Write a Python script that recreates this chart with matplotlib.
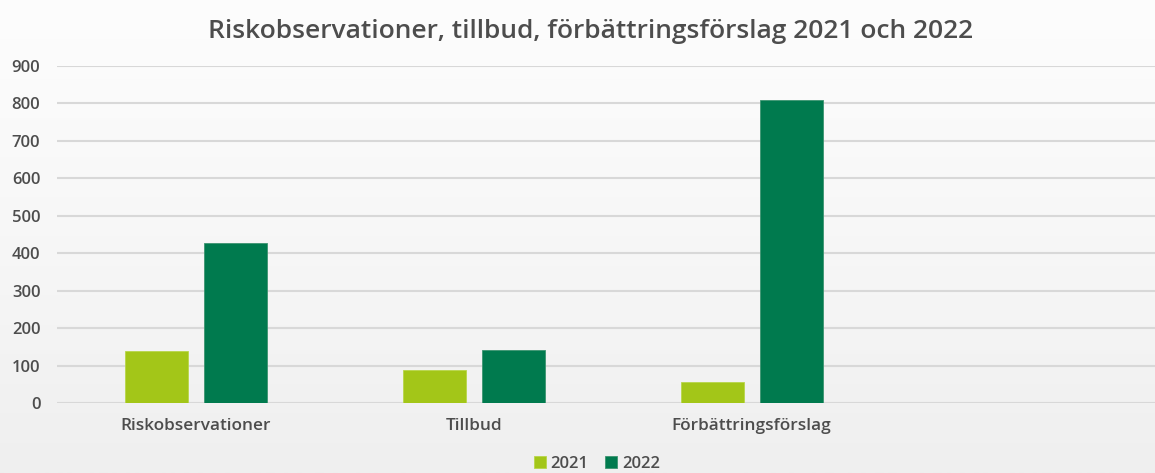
import matplotlib.pyplot as plt
from matplotlib.colors import LinearSegmentedColormap
import numpy as np

# data
categories = ["Riskobservationer", "Tillbud", "Förbättringsförslag", ""]
years = ["2021", "2022"]
values_2021 = [140, 88, 57, 0]
values_2022 = [427, 141, 808, 0]
colors = ["#a3c618", "#007a4e"]

plt.rcParams['font.family'] = ['Open Sans', 'DejaVu Sans']
text_color = "#4d4d4d"

fig = plt.figure(figsize=(11.55, 4.73), dpi=100)

# faint light-gray background gradient
bg = fig.add_axes([0, 0, 1, 1], zorder=-10)
grad = np.linspace(0, 1, 256).reshape(-1, 1)
cmap = LinearSegmentedColormap.from_list("bg", ["#fdfdfd", "#f7f7f7", "#efefef"])
bg.imshow(grad, aspect="auto", cmap=cmap, extent=[0, 1, 0, 1], origin="upper")
bg.axis("off")

ax = fig.add_axes([57 / 1155, 1 - 403 / 473, 1111.5 / 1155, 337 / 473])
ax.patch.set_alpha(0)

x = np.arange(len(categories))
w = 0.226
off = 0.142
ax.bar(x[:3] - off, values_2021[:3], w, color=colors[0], label=years[0],
       edgecolor="#b8d64a", linewidth=0.6, zorder=3)
ax.bar(x[:3] + off, values_2022[:3], w, color=colors[1], label=years[1],
       edgecolor="#3c9470", linewidth=0.6, zorder=3)

ax.set_xlim(-0.5, 3.5)
ax.set_ylim(0, 900)
ax.set_yticks(range(0, 901, 100))
ax.yaxis.grid(True, color="#d8d8d8", linewidth=1.5, zorder=0)
ax.set_axisbelow(True)
for s in ax.spines.values():
    s.set_visible(False)
ax.tick_params(axis="both", length=0, colors=text_color, labelsize=12)
ax.tick_params(axis="x", labelsize=12.4)
ax.tick_params(axis="y", pad=12)
ax.tick_params(axis="x", pad=11)
ax.set_xticks(x[:3])
ax.set_xticklabels(categories[:3])
for lab in ax.get_xticklabels() + ax.get_yticklabels():
    lab.set_fontweight("semibold")

fig.text(591 / 1155, 1 - 31 / 473, "Riskobservationer, tillbud, förbättringsförslag 2021 och 2022",
         ha="center", va="center", fontsize=19, fontweight="semibold", color=text_color)

leg = fig.legend(loc="center", bbox_to_anchor=(597 / 1155, 1 - 464 / 473), ncol=2,
                 frameon=False, prop={"size": 12, "weight": "semibold"},
                 labelcolor=text_color,
                 handlelength=0.7, handleheight=0.7, handletextpad=0.3,
                 columnspacing=1.0)

fig.savefig("out.png", dpi=100)
